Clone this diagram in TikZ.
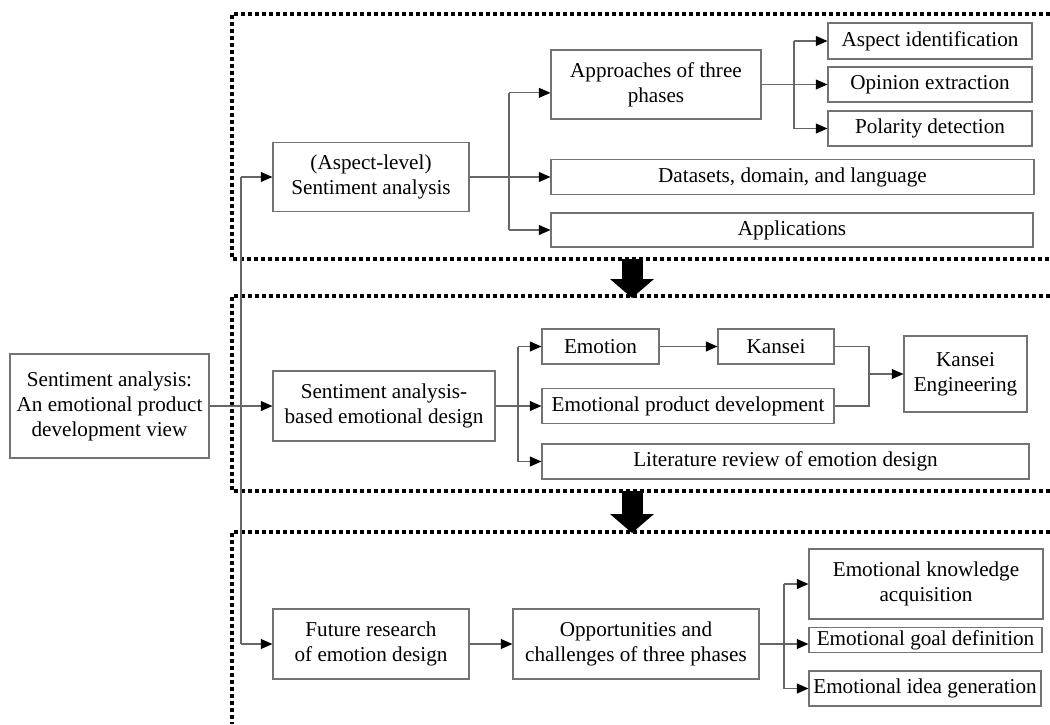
\documentclass[tikz,border=0pt]{standalone}
\usepackage{fontspec}
\setmainfont{Liberation Serif}
\usetikzlibrary{arrows.meta}
\tikzset{
  topicbox/.style = {draw=black!55, line width=0.7pt, inner sep=0pt, align=center,
                     font=\fontsize{12.7pt}{15pt}\selectfont},
  linkln/.style   = {draw=black!60, line width=0.7pt},
  linkar/.style   = {linkln, -{Triangle[length=7pt,width=6pt,color=black]}},
  framedot/.style = {line width=2.4pt, dash pattern=on 2.4pt off 1.8pt},
  bigar/.style    = {line width=12.6pt, -{Triangle[length=11.4pt,width=25.8pt]}}
}
\begin{document}
\begin{tikzpicture}[x=0.6pt,y=-0.6pt]
  \useasboundingbox (0,0) rectangle (1050,724);
  % dotted frames and the arrows between them
  \draw[framedot] (1050,14) -- (232,14) -- (232,259) -- (1050,259);
  \draw[framedot] (1050,296) -- (232,296) -- (232,491) -- (1050,491);
  \draw[framedot] (1050,532) -- (232,532) -- (232,724);
  \draw[bigar] (632,259) -- (632,298);
  \draw[bigar] (632,491) -- (632,533);

  \node[topicbox, minimum width=119.4pt, minimum height=62.4pt] (root) at (109.5,406)
       {Sentiment analysis:\\An emotional product\\development view};

  % sentiment analysis part
  \node[topicbox, minimum width=117.6pt, minimum height=41.4pt] (sa) at (371,177)
       {(Aspect-level)\\Sentiment analysis};
  \node[topicbox, minimum width=126pt, minimum height=41.4pt] (appr) at (656,84.5)
       {Approaches of three\\phases};
  \node[topicbox, minimum width=289.8pt, minimum height=21pt] (data) at (792.5,177)
       {Datasets, domain, and language};
  \node[topicbox, minimum width=289.2pt, minimum height=20.4pt] (appl) at (792,230)
       {Applications};
  \node[topicbox, minimum width=122.4pt, minimum height=21.6pt] (aspid) at (930,41)
       {Aspect identification};
  \node[topicbox, minimum width=122.4pt, minimum height=21pt] (opin) at (930,84.5)
       {Opinion extraction};
  \node[topicbox, minimum width=122.4pt, minimum height=21pt] (polar) at (930,128.5)
       {Polarity detection};

  % emotional design part
  \node[topicbox, minimum width=133.2pt, minimum height=42pt] (sabed) at (384,406)
       {Sentiment analysis-\\based emotional design};
  \node[topicbox, minimum width=70.2pt, minimum height=21pt] (emo) at (600.5,346.5)
       {Emotion};
  \node[topicbox, minimum width=69.6pt, minimum height=21pt] (kansei) at (776,346.5)
       {Kansei};
  \node[topicbox, minimum width=175.2pt, minimum height=21pt] (epd) at (688,406)
       {Emotional product development};
  \node[topicbox, minimum width=292.2pt, minimum height=21pt] (lit) at (785.5,461.5)
       {Literature review of emotion design};
  \node[topicbox, minimum width=73.8pt, minimum height=45.6pt] (ke) at (965.5,374)
       {Kansei\\Engineering};

  % future research part
  \node[topicbox, minimum width=117.6pt, minimum height=42pt] (future) at (371,644)
       {Future research\\of emotion design};
  \node[topicbox, minimum width=147.6pt, minimum height=42pt] (opp) at (636,644)
       {Opportunities and\\challenges of three phases};
  \node[topicbox, minimum width=140.4pt, minimum height=42pt] (know) at (926,584)
       {Emotional knowledge\\acquisition};
  \node[topicbox, minimum width=139.8pt, minimum height=15pt] (goal) at (925.5,640)
       {Emotional goal definition};
  \node[topicbox, minimum width=139.2pt, minimum height=21pt] (idea) at (925,688.5)
       {Emotional idea generation};

  \coordinate (spine) at (241,0);
  \coordinate (fork1) at (509,0);
  \coordinate (fork2) at (794,0);
  \coordinate (fork3) at (518,0);
  \coordinate (merge) at (869,0);
  \coordinate (fork4) at (784,0);
  \coordinate (apin) at ([yshift=-5pt]appr.west);

  \draw[linkar] (root) -- (sabed);
  \draw[linkln] (spine |- sa) -- (spine |- future);
  \draw[linkar] (spine |- sa) -- (sa);
  \draw[linkar] (spine |- future) -- (future);

  \draw[linkar] (sa) -- (data);
  \draw[linkln] (fork1 |- apin) -- (fork1 |- appl);
  \draw[linkar] (fork1 |- apin) -- (apin);
  \draw[linkar] (fork1 |- appl) -- (appl);
  \draw[linkar] (appr) -- (opin);
  \draw[linkln] (fork2 |- aspid) -- (fork2 |- polar);
  \draw[linkar] (fork2 |- aspid) -- (aspid);
  \draw[linkar] (fork2 |- polar) -- (polar);

  \draw[linkar] (sabed) -- (epd);
  \draw[linkln] (fork3 |- emo) -- (fork3 |- lit);
  \draw[linkar] (fork3 |- emo) -- (emo);
  \draw[linkar] (fork3 |- lit) -- (lit);
  \draw[linkar] (emo) -- (kansei);
  \draw[linkln] (kansei) -- (merge |- kansei) -- (merge |- epd) -- (epd);
  \draw[linkar] (merge |- ke) -- (ke);

  \draw[linkar] (future) -- (opp);
  \draw[linkar] (opp) -- (opp -| goal.west);
  \draw[linkln] (fork4 |- know) -- (fork4 |- idea);
  \draw[linkar] (fork4 |- know) -- (know);
  \draw[linkar] (fork4 |- idea) -- (idea);
\end{tikzpicture}
\end{document}
